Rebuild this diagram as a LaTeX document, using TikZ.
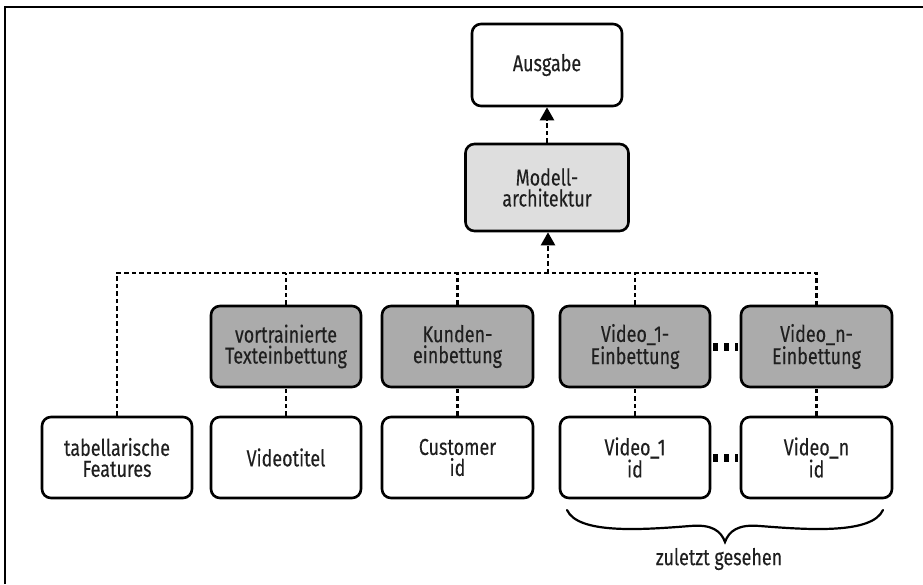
\documentclass[tikz,border=0pt]{standalone}
\usepackage{fontspec}
\setmainfont{Fira Sans}[FakeStretch=0.78, FakeBold=0.25]
\usetikzlibrary{arrows.meta,calc}
\definecolor{lightbox}{HTML}{DEDEDE}
\definecolor{darkbox}{HTML}{ABABAB}
\tikzset{
  labelfont/.style={font=\fontsize{23}{21}\selectfont, text=black!88},
  box/.style={draw=black, line width=2.6pt, rounded corners=9pt, align=center,
    minimum width=150pt, minimum height=81pt, inner sep=2pt, labelfont},
  inbox/.style={box, fill=white},
  embbox/.style={box, fill=darkbox},
  modbox/.style={box, fill=lightbox},
  link/.style={line width=2.4pt, dash pattern=on 4.5pt off 3pt},
  gapdots/.style={line width=8pt, dash pattern=on 5pt off 6pt, shorten <=2pt, shorten >=2pt},
  tip/.style={-{Triangle[width=14pt,length=13pt]}}
}
\begin{document}
\begin{tikzpicture}[x=1pt,y=-1pt]
\useasboundingbox (0,0) rectangle (923,584);
% frame lines along top and left edges
\draw[line width=1.5pt] (5,584) -- (5,7) -- (923,7);

% output and model
\node[inbox, minimum height=82pt] (aus) at (547,65) {Ausgabe};
\node[modbox, minimum width=163pt, minimum height=87pt] (mod) at (547,187.5) {Modell-\\architektur};

% embedding row
\node[embbox] (vte) at (286,346.5) {vortrainierte\\Texteinbettung};
\node[embbox, minimum width=151pt] (ke) at (457.5,346.5) {Kunden-\\einbettung};
\node[embbox] (v1e) at (635,346.5) {Video\_1-\\Einbettung};
\node[embbox, minimum width=151pt] (vne) at (816.5,346.5) {Video\_n-\\Einbettung};

% input row
\node[inbox] (tab) at (117,457.5) {tabellarische\\Features};
\node[inbox] (vt) at (286,457.5) {Videotitel};
\node[inbox, minimum width=151pt] (cid) at (457.5,457.5) {Customer\\id};
\node[inbox] (v1) at (635,457.5) {Video\_1\\id};
\node[inbox, minimum width=151pt] (vn) at (816.5,457.5) {Video\_n\\id};

% collecting bus
\coordinate (bus) at (548,273);
\draw[link] (tab.north) -- (tab.north |- bus) -- (vne.north |- bus) -- (vne.north);
\draw[link] (vte.north) -- (vte.north |- bus);
\draw[link] (ke.north) -- (ke.north |- bus);
\draw[link] (v1e.north) -- (v1e.north |- bus);
\draw[link, tip] (bus) -- (bus |- mod.south);
\draw[link, tip] (aus.south |- mod.north) -- (aus.south);

% inputs to embeddings
\draw[link] (vt.north) -- (vte.south);
\draw[link] (cid.north) -- (ke.south);
\draw[link] (v1.north) -- (v1e.south);
\draw[link] (vn.north) -- (vne.south);

% ellipsis between first and n-th video
\draw[gapdots] (v1e.east) -- (vne.west);
\draw[gapdots] (v1.east) -- (vn.west);

% brace under the watched videos
\draw[line width=2.2pt, line cap=round]
  (567,510) .. controls (578,534) and (640,530) .. (690,526)
  .. controls (712,524) and (721,531) .. (725,542)
  .. controls (729,531) and (738,524) .. (760,526)
  .. controls (810,530) and (872,534) .. (883,510);
\node[labelfont] (seen) at (719,559) {zuletzt gesehen};
\end{tikzpicture}
\end{document}
